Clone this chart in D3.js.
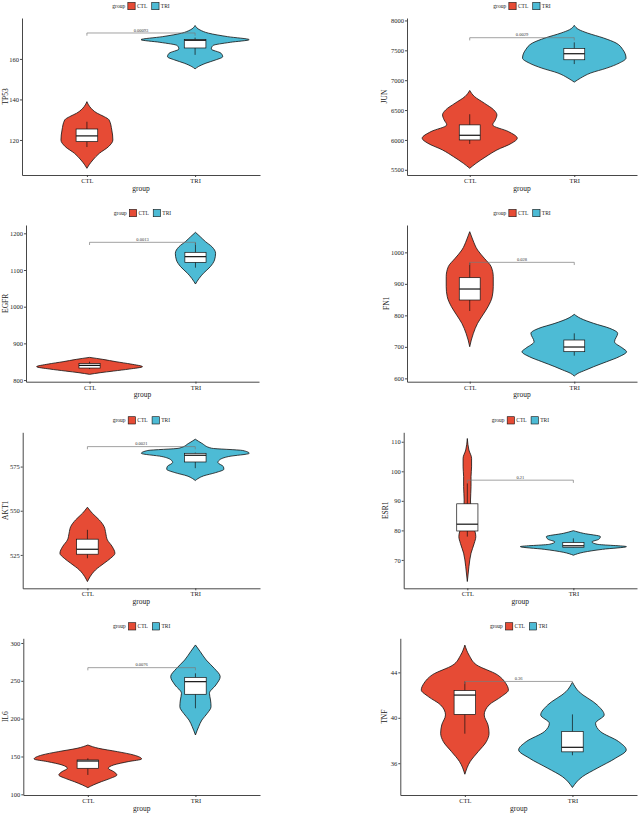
<!DOCTYPE html>
<html>
<head>
<meta charset="utf-8">
<script src="https://cdn.jsdelivr.net/npm/d3@7"></script>
<style>
  body { margin: 0; background: #fff; }
  svg { display: block; }
  text { font-family: "Liberation Serif", "Times New Roman", serif; }
</style>
</head>
<body>
<div id="chart"></div>
<script>
// groups and genes
const groups = ["CTL", "TRI"];
const groupColors = ["#E64B35", "#4DBBD5"];
const genes = ["TP53", "JUN", "EGFR", "FN1", "AKT1", "ESR1", "IL6", "TNF"];
const pValues = ["0.00093", "0.0029", "0.0013", "0.028", "0.0021", "0.21", "0.0076", "0.36"];

// y axis limits and ticks per gene
const yLimits = [[102.7, 180.2], [5413, 8041], [795.5, 1222.7], [589.4, 1086.8],
                 [506.1, 594.4], [60.4, 113.2], [99.1, 306.2], [33.2, 47.0]];
const yTicks = [[120, 140, 160], [5500, 6000, 6500, 7000, 7500, 8000],
                [800, 900, 1000, 1100, 1200], [600, 700, 800, 900, 1000],
                [525, 550, 575], [70, 80, 90, 100, 110],
                [100, 150, 200, 250, 300], [36, 40, 44]];
const bracketY = [172.8, 7711, 1175.5, 968.3, 586.3, 97, 267.4, 43.2];

// box stats: [lower whisker, q1, median, q3, upper whisker]
const boxCTL = [[116.5, 119.2, 122.0, 125.4, 129.0], [5933, 6000, 6078, 6252, 6430],
                [830, 832.7, 840, 845, 850], [813.8, 848.7, 883.6, 919.6, 967],
                [523.1, 525.4, 528.2, 533.9, 539.2], [77.9, 79.8, 82.1, 89.0, 95.9],
                [125.6, 134.4, 144, 145.4, 147.6], [38.6, 40.3, 42.0, 42.4, 43.2]];
const boxTRI = [[162.0, 165.4, 169.2, 169.6, 170.5], [7270, 7342, 7443, 7532, 7633],
                [1106.4, 1120.9, 1136.4, 1148.2, 1174.5], [672, 684.7, 699.5, 721.7, 742.9],
                [574.1, 577.6, 581.4, 582.5, 582.9], [74.3, 74.3, 74.8, 75.9, 77.3],
                [213.7, 232.2, 248.9, 254.6, 259.9], [36.7, 37.0, 37.4, 38.8, 40.3]];

// violin outlines: [value, relative density], top to bottom
const violinCTL = [
  [[138.9,0],[136.5,0.05],[133.2,0.19],[131.5,0.32],[129.9,0.41],[124.9,0.46],[120,0.48],[116.7,0.40],[113.4,0.23],[110.1,0.11],[107.7,0.04],[106,0]],
  [[6828,0],[6727,0.09],[6615,0.28],[6503,0.46],[6419,0.52],[6336,0.49],[6252,0.44],[6140,0.74],[6028,0.91],[5944,0.80],[5832,0.52],[5720,0.31],[5608,0.12],[5525,0]],
  [[861.8,0],[856.4,0.25],[850,0.5],[843.6,0.78],[836.4,1.0],[830,0.75],[824.5,0.45],[820,0.2],[815.5,0]],
  [[1065.6,0],[1039.2,0.06],[1007.4,0.15],[981,0.28],[954.5,0.41],[922.8,0.45],[891,0.45],[859.3,0.43],[827.5,0.35],[801,0.25],[774.6,0.15],[742.9,0.07],[721.7,0.03],[700.5,0]],
  [[552,0],[548.6,0.09],[544.8,0.22],[541,0.31],[537.3,0.34],[533.5,0.37],[529.7,0.46],[525.9,0.51],[523.1,0.43],[520.3,0.31],[516.5,0.15],[512.7,0.05],[509.9,0]],
  [[111.1,0],[107.2,0.03],[104.4,0.08],[101.5,0.08],[98.2,0.07],[94.8,0.07],[90.3,0.06],[85.8,0.07],[81.3,0.12],[77.9,0.16],[75.6,0.13],[72.3,0.07],[67.7,0.03],[62.7,0]],
  [[165.2,0],[160.8,0.2],[156.4,0.55],[152,0.85],[146.7,1.0],[143.2,0.75],[138.8,0.48],[134.4,0.38],[130,0.48],[125.6,0.54],[121.1,0.42],[116.7,0.25],[112.3,0.1],[108.8,0]],
  [[46.4,0],[45.5,0.08],[44.65,0.22],[43.8,0.6],[43.04,0.76],[42.45,0.81],[41.87,0.68],[41.13,0.45],[40.25,0.36],[39.37,0.43],[38.64,0.45],[37.9,0.4],[37.03,0.25],[36.15,0.1],[35.03,0]]
];
const violinTRI = [
  [[176.5,0],[174.3,0.09],[172.7,0.25],[171.0,0.6],[169.5,1.0],[168.2,0.65],[166.6,0.33],[164.9,0.30],[162.8,0.48],[161.1,0.51],[159.5,0.38],[157.9,0.2],[156.2,0.06],[155.1,0]],
  [[7918,0],[7846,0.09],[7790,0.25],[7706,0.56],[7622,0.8],[7510,0.93],[7370,0.99],[7286,0.86],[7202,0.62],[7119,0.31],[7035,0.12],[6968,0]],
  [[1202.7,0],[1190.9,0.09],[1177.3,0.19],[1163.6,0.31],[1145.5,0.38],[1127.3,0.36],[1109,0.28],[1091,0.15],[1077.3,0.07],[1061.8,0]],
  [[803.2,0],[790.5,0.12],[774.6,0.37],[758.7,0.68],[742.9,0.83],[716.4,0.77],[695.2,0.93],[684.7,1.0],[668.8,0.86],[652.9,0.62],[637,0.37],[626.5,0.22],[615.9,0.07],[607.4,0]],
  [[590.5,0],[588.2,0.12],[585.4,0.3],[584.1,0.88],[582.5,1.0],[580.7,0.62],[578.8,0.45],[577.3,0.42],[575,0.52],[573.5,0.53],[571.6,0.38],[569.7,0.15],[568.2,0.05],[567.1,0]],
  [[79.9,0],[79,0.19],[77.9,0.51],[77,0.48],[76.1,0.35],[75.3,0.45],[74.5,1.0],[73.6,0.55],[72.6,0.19],[71.6,0]],
  [[297.4,0],[288.5,0.09],[277.5,0.2],[266.5,0.35],[255.5,0.46],[244.5,0.38],[233.5,0.26],[224.7,0.28],[215.9,0.29],[207,0.22],[198.2,0.12],[189.4,0.06],[178.4,0]],
  [[43.13,0],[42.3,0.12],[41.13,0.46],[40.25,0.59],[39.52,0.43],[38.79,0.52],[37.9,0.86],[37.17,1.0],[36.44,0.8],[35.56,0.46],[34.83,0.19],[33.86,0]]
];

// panel placement: plot left, top, right, bottom, y title x
const layout = [
  [22, 18, 260, 175, 5], [407, 18, 637, 175, 384],
  [26, 225, 259, 381.7, 5], [407, 225, 637, 381.7, 386],
  [22.7, 432.3, 260, 588.3, 5], [403.7, 432.3, 637, 588.3, 385],
  [23.3, 638.3, 260, 795, 5], [400.3, 638.3, 637, 795, 384]
];

const svg = d3.select("#chart").append("svg")
    .attr("width", 644)
    .attr("height", 814);

genes.forEach(function (gene, i) {
    let [left, top, right, bottom, titleX] = layout[i];
    let g = svg.append("g");

    let x = d3.scalePoint().domain(groups).range([left, right]).padding(0.6);
    let y = d3.scaleLinear().domain(yLimits[i]).range([bottom, top]);
    let w = d3.scaleLinear().domain([0, 1]).range([0, x.step() * 0.5]);
    let boxHalf = x.step() * 0.1;

    let violins = [violinCTL[i], violinTRI[i]];
    let boxes = [boxCTL[i], boxTRI[i]];

    groups.forEach(function (grp, k) {
        let cx = x(grp);
        let area = d3.area()
            .curve(d3.curveMonotoneY)
            .y(d => y(d[0]))
            .x0(d => cx - w(d[1]))
            .x1(d => cx + w(d[1]));
        g.append("path")
            .datum(violins[k])
            .attr("d", area)
            .attr("fill", groupColors[k])
            .attr("stroke", "#111")
            .attr("stroke-width", 0.8);

        let b = boxes[k];
        g.append("line")
            .attr("x1", cx).attr("x2", cx)
            .attr("y1", y(b[0])).attr("y2", y(b[4]))
            .attr("stroke", "#111").attr("stroke-width", 0.7);
        g.append("rect")
            .attr("x", cx - boxHalf)
            .attr("width", boxHalf * 2)
            .attr("y", y(b[3]))
            .attr("height", y(b[1]) - y(b[3]))
            .attr("fill", "#fff")
            .attr("stroke", "#111").attr("stroke-width", 0.7);
        g.append("line")
            .attr("x1", cx - boxHalf).attr("x2", cx + boxHalf)
            .attr("y1", y(b[2])).attr("y2", y(b[2]))
            .attr("stroke", "#111").attr("stroke-width", 1.2);
    });

    // significance bracket
    let by = y(bracketY[i]);
    let x0 = x(groups[0]), x1 = x(groups[1]);
    g.append("path")
        .attr("d", `M${x0},${by + 2.7}V${by}H${x1}V${by + 2.7}`)
        .attr("fill", "none")
        .attr("stroke", "#7a7a7a")
        .attr("stroke-width", 0.7);
    g.append("text")
        .attr("x", (x0 + x1) / 2)
        .attr("y", by - 1.4)
        .attr("text-anchor", "middle")
        .style("font-size", "4.5px")
        .attr("fill", "#333")
        .text(pValues[i]);

    // axes
    let yAxis = g.append("g")
        .attr("transform", `translate(${left},0)`)
        .call(d3.axisLeft(y).tickValues(yTicks[i]).tickFormat(d3.format("d"))
            .tickSize(2).tickSizeOuter(0).tickPadding(1));
    let xAxis = g.append("g")
        .attr("transform", `translate(0,${bottom})`)
        .call(d3.axisBottom(x).tickSize(2).tickSizeOuter(0).tickPadding(1.5));
    [yAxis, xAxis].forEach(function (ax) {
        ax.selectAll("path, line").attr("stroke", "#333").attr("stroke-width", 0.9);
        ax.selectAll("text")
            .attr("fill", "#222")
            .style("font-size", "6.5px")
            .style("font-family", '"Liberation Serif", serif');
    });

    g.append("text")
        .attr("x", (left + right) / 2)
        .attr("y", bottom + 15.5)
        .attr("text-anchor", "middle")
        .style("font-size", "7.5px")
        .attr("fill", "#222")
        .text("group");
    g.append("text")
        .attr("transform", `translate(${titleX + 2.5},${(top + bottom) / 2}) rotate(-90)`)
        .attr("text-anchor", "middle")
        .style("font-size", "7.5px")
        .attr("fill", "#222")
        .text(gene);

    // legend on top
    let lg = g.append("g");
    let ly = top - 12;
    let cur = 0;
    let t0 = lg.append("text").attr("x", cur).attr("y", ly + 1.8)
        .style("font-size", "5.5px").attr("fill", "#222").text("group");
    cur += t0.node().getComputedTextLength() + 2.7;
    groups.forEach(function (grp, k) {
        lg.append("rect")
            .attr("x", cur).attr("y", ly - 3.6)
            .attr("width", 7.3).attr("height", 7.3)
            .attr("fill", groupColors[k])
            .attr("stroke", "#111").attr("stroke-width", 0.6);
        cur += 7.3 + 1.8;
        let t = lg.append("text").attr("x", cur).attr("y", ly + 1.8)
            .style("font-size", "5.5px").attr("fill", "#222").text(grp);
        cur += t.node().getComputedTextLength() + (k === 0 ? 4.4 : 0);
    });
    lg.attr("transform", `translate(${(left + right) / 2 - cur / 2},0)`);
});
</script>
</body>
</html>
